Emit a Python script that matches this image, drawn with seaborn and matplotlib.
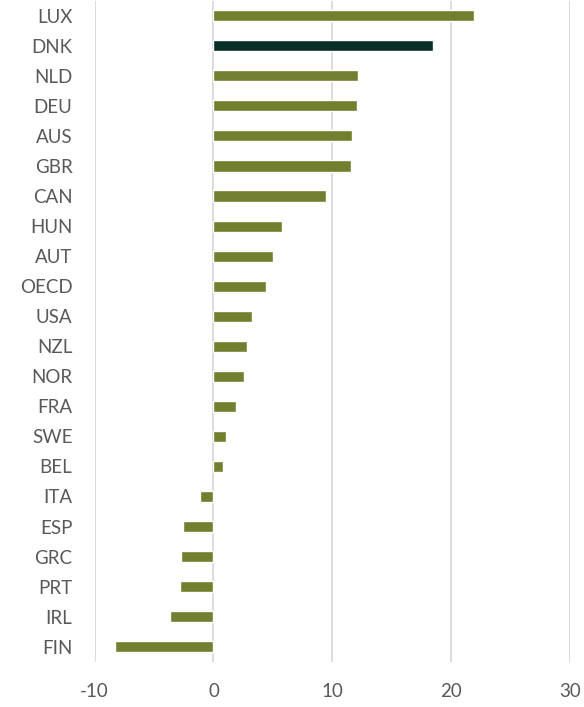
import matplotlib
matplotlib.use("Agg")
import matplotlib.pyplot as plt
import seaborn as sns
import pandas as pd

countries = ['LUX', 'DNK', 'NLD', 'DEU', 'AUS', 'GBR', 'CAN', 'HUN', 'AUT', 'OECD', 'USA',
             'NZL', 'NOR', 'FRA', 'SWE', 'BEL', 'ITA', 'ESP', 'GRC', 'PRT', 'IRL', 'FIN']
values = [21.9, 18.5, 12.2, 12.05, 11.7, 11.6, 9.5, 5.75, 5.0, 4.45, 3.24,
          2.82, 2.6, 1.93, 1.03, 0.8, -1.12, -2.58, -2.77, -2.8, -3.64, -8.3]
highlight = 'DNK'

df = pd.DataFrame({'country': countries, 'value': values})
df['group'] = ['hi' if c == highlight else 'other' for c in countries]

sns.set_style("white")
plt.rcParams['font.family'] = ['Lato', 'DejaVu Sans']
plt.rcParams['axes.unicode_minus'] = False

fig = plt.figure(figsize=(5.84, 7.07), dpi=100)
ax = fig.add_axes([0.162, 0.064, 0.814, 0.935])

sns.barplot(data=df, x='value', y='country', hue='group', orient='h',
            palette={'hi': '#00352B', 'other': '#7A8C22'}, width=0.37,
            dodge=False, legend=False, ax=ax, zorder=3)

ax.set_xlim(-10, 30)
ax.set_xticks([-10, 0, 10, 20, 30])
ax.xaxis.grid(True, color='#D9D9D9', linewidth=1.3, zorder=0)
ax.set_axisbelow(True)
for s in ax.spines.values():
    s.set_visible(False)
ax.tick_params(axis='both', length=0, labelsize=13.5, colors='#595959')
ax.tick_params(axis='x', pad=15)
ax.tick_params(axis='y', pad=16)
ax.set_xlabel('')
ax.set_ylabel('')

fig.savefig('out.png', dpi=100)
